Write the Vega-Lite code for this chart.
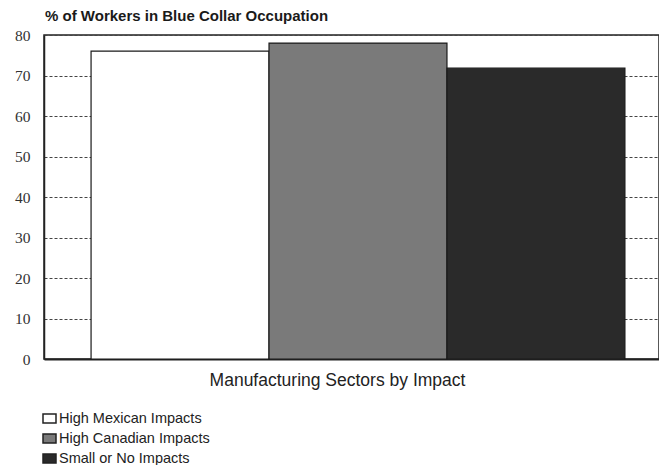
{
  "$schema": "https://vega.github.io/schema/vega-lite/v6.json",
  "autosize": "none",
  "width": 615,
  "height": 324,
  "padding": {"left": 44, "top": 35, "right": 0, "bottom": 106},
  "background": "white",
  "title": {
    "text": "% of Workers in Blue Collar Occupation",
    "anchor": "start",
    "frame": "group",
    "font": "Liberation Sans",
    "fontSize": 15,
    "fontWeight": "bold",
    "color": "#1a1a1a",
    "offset": 4,
    "dx": 1
  },
  "config": {
    "view": {"stroke": "#222", "strokeWidth": 1.5},
    "font": "Liberation Sans"
  },
  "data": {
    "values": [
      {"impact": "High Mexican Impacts", "pct": 76.0},
      {"impact": "High Canadian Impacts", "pct": 78.0},
      {"impact": "Small or No Impacts", "pct": 71.8}
    ]
  },
  "mark": {"type": "bar", "stroke": "#1a1a1a", "strokeWidth": 1.2},
  "encoding": {
    "x": {
      "field": "impact",
      "type": "nominal",
      "sort": null,
      "scale": {"paddingInner": 0, "paddingOuter": 0.228, "align": 0.58},
      "axis": {
        "title": "Manufacturing Sectors by Impact",
        "labels": false,
        "ticks": false,
        "domainColor": "#222",
        "domainWidth": 2,
        "titleFont": "Liberation Sans",
        "titleFontSize": 17.5,
        "titleFontWeight": "normal",
        "titleColor": "#222",
        "titlePadding": 12,
        "titleX": 293
      }
    },
    "y": {
      "field": "pct",
      "type": "quantitative",
      "scale": {"domain": [0, 80]},
      "axis": {
        "title": null,
        "values": [0, 10, 20, 30, 40, 50, 60, 70, 80],
        "ticks": false,
        "labelFont": "Liberation Serif",
        "labelFontSize": 15.5,
        "labelColor": "#333",
        "labelPadding": 14,
        "domainColor": "#222",
        "domainWidth": 1.5,
        "grid": true,
        "gridColor": "#444",
        "gridDash": [3, 2],
        "gridWidth": 1
      }
    },
    "fill": {
      "field": "impact",
      "type": "nominal",
      "sort": null,
      "scale": {
        "domain": ["High Mexican Impacts", "High Canadian Impacts", "Small or No Impacts"],
        "range": ["#ffffff", "#7a7a7a", "#2a2a2a"]
      },
      "legend": {
        "title": null,
        "orient": "none",
        "legendX": -2,
        "legendY": 376,
        "direction": "vertical",
        "symbolType": "M-1,-0.7H1V0.7H-1Z",
        "symbolSize": 169,
        "symbolStrokeColor": "#222",
        "symbolStrokeWidth": 1.5,
        "labelFont": "Liberation Sans",
        "labelFontSize": 14.5,
        "labelColor": "#222",
        "labelOffset": 2,
        "rowPadding": 3
      }
    }
  }
}
